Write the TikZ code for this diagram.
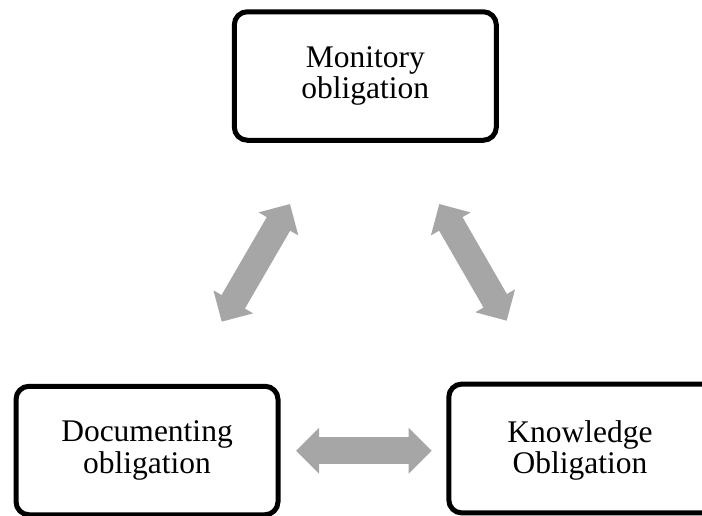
\documentclass[tikz,border=0pt]{standalone}
\usepackage{fontspec}
\setmainfont{Liberation Serif}
\usetikzlibrary{arrows.meta}
\definecolor{arrowgray}{RGB}{166,166,166}
\tikzset{
  boxline/.style={draw=black, line width=5pt, rounded corners=13pt},
  dutytext/.style={minimum width=262pt, minimum height=128.5pt, align=center,
    inner sep=0pt, font={\fontsize{31.5}{31.7}\selectfont}},
  dutybox/.style={dutytext, boxline, fill=white},
  linkarrow/.style={draw=arrowgray, line width=27pt,
    {Triangle[length=23pt,width=44.5pt]}-{Triangle[length=23pt,width=44.5pt]}}
}
\begin{document}
\begin{tikzpicture}[x=1pt,y=-1pt]
  \useasboundingbox (0,0) rectangle (702,515);
  % the three obligations
  \node[dutybox] (mon) at (365.3,76) {Monitory\\obligation};
  \node[dutybox] (doc) at (147,450.5) {Documenting\\obligation};
  \node[dutytext] (kno) at (580,450.5) {Knowledge\\Obligation};
  % this box sits a little higher and runs on past the right edge of the page
  \draw[boxline] ([xshift=60pt,yshift=2pt]kno.south east)
    -- ([yshift=2pt]kno.south west)
    -- ([yshift=2pt]kno.north west)
    -- ([xshift=60pt,yshift=2pt]kno.north east);
  % end points of the block arrows
  \coordinate (l1) at (221.7,321.7);
  \coordinate (l2) at (290,204);
  \coordinate (r1) at (439.3,204);
  \coordinate (r2) at (506.7,320.7);
  \coordinate (b1) at (296,450.7);
  \coordinate (b2) at (431.7,450.7);
  \draw[linkarrow] (l1) -- (l2);
  \draw[linkarrow] (r1) -- (r2);
  \draw[linkarrow] (b1) -- (b2);
\end{tikzpicture}
\end{document}
